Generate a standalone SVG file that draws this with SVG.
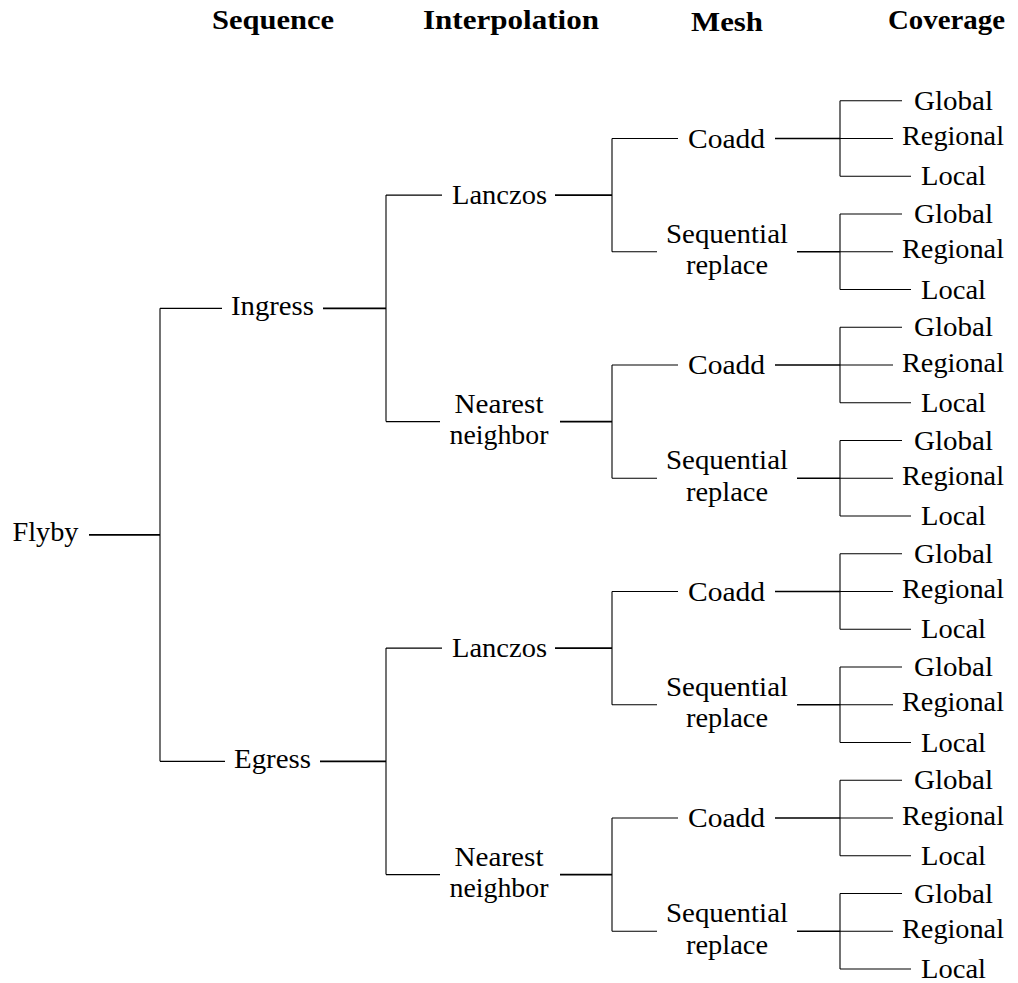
<svg xmlns="http://www.w3.org/2000/svg" width="1018" height="983" viewBox="0 0 1018 983">
<style>
.t{font-family:"Liberation Serif","Times New Roman",serif;font-size:26.5px;text-anchor:middle;fill:#000}
.h{font-weight:bold}
.br{stroke:#000;stroke-width:1.1;fill:none}
.st{stroke:#000;stroke-width:1.6;fill:none}
</style>
<rect width="1018" height="983" fill="#fff"/>
<g id="headers">
<text class="t h" x="273" y="28.5" textLength="122" lengthAdjust="spacingAndGlyphs">Sequence</text>
<text class="t h" x="511" y="28.5" textLength="176" lengthAdjust="spacingAndGlyphs">Interpolation</text>
<text class="t h" x="727" y="31" textLength="72" lengthAdjust="spacingAndGlyphs">Mesh</text>
<text class="t h" x="946.5" y="28.5" textLength="117" lengthAdjust="spacingAndGlyphs">Coverage</text>
</g>
<g id="connectors">
<path class="st" d="M89 534.85H160"/>
<path class="br" d="M160 308.35V761.35M160 308.35H222M160 761.35H225"/>
<path class="st" d="M323 308.35H386M320 761.35H386"/>
<path class="br" d="M386 195.1V421.6M386 195.1H442M386 421.6H440M386 648.1V874.6M386 648.1H442M386 874.6H440"/>
<path class="st" d="M555 195.1H612M560 421.6H612M555 648.1H612M560 874.6H612"/>
<path class="br" d="M612 138.45V251.7M612 138.45H678M612 251.7H657M612 364.95V478.2M612 364.95H678M612 478.2H657M612 591.45V704.7M612 591.45H678M612 704.7H657M612 817.95V931.2M612 817.95H678M612 931.2H657"/>
<path class="st" d="M775 138.45H840M797 251.7H840M775 364.95H840M797 478.2H840M775 591.45H840M797 704.7H840M775 817.95H840M797 931.2H840"/>
<path class="br" d="M840 100.7V176.2M840 100.7H902M840 138.45H893M840 176.2H911M840 213.95V289.45M840 213.95H902M840 251.7H893M840 289.45H911M840 327.2V402.7M840 327.2H902M840 364.95H893M840 402.7H911M840 440.45V515.95M840 440.45H902M840 478.2H893M840 515.95H911M840 553.7V629.2M840 553.7H902M840 591.45H893M840 629.2H911M840 666.95V742.45M840 666.95H902M840 704.7H893M840 742.45H911M840 780.2V855.7M840 780.2H902M840 817.95H893M840 855.7H911M840 893.45V968.95M840 893.45H902M840 931.2H893M840 968.95H911"/>
</g>
<g id="flyby"><text class="t" x="45.5" y="541.45" textLength="66" lengthAdjust="spacingAndGlyphs">Flyby</text></g>
<g id="ingress"><text class="t" x="272.5" y="314.95" textLength="83" lengthAdjust="spacingAndGlyphs">Ingress</text></g>
<g id="egress"><text class="t" x="272.5" y="767.95" textLength="77" lengthAdjust="spacingAndGlyphs">Egress</text></g>
<g id="ingress-lanczos"><text class="t" x="499.5" y="204.3" textLength="95" lengthAdjust="spacingAndGlyphs">Lanczos</text></g>
<g id="ingress-nearest"><text class="t" x="499" y="412.9" textLength="89" lengthAdjust="spacingAndGlyphs">Nearest</text><text class="t" x="499" y="444.1" textLength="99" lengthAdjust="spacingAndGlyphs">neighbor</text></g>
<g id="egress-lanczos"><text class="t" x="499.5" y="657.3" textLength="95" lengthAdjust="spacingAndGlyphs">Lanczos</text></g>
<g id="egress-nearest"><text class="t" x="499" y="865.9" textLength="89" lengthAdjust="spacingAndGlyphs">Nearest</text><text class="t" x="499" y="897.1" textLength="99" lengthAdjust="spacingAndGlyphs">neighbor</text></g>
<g id="mesh-1"><text class="t" x="726.5" y="147.65" textLength="77" lengthAdjust="spacingAndGlyphs">Coadd</text></g>
<g id="mesh-2"><text class="t" x="727" y="242.5" textLength="122" lengthAdjust="spacingAndGlyphs">Sequential</text><text class="t" x="727" y="274.3" textLength="82" lengthAdjust="spacingAndGlyphs">replace</text></g>
<g id="mesh-3"><text class="t" x="726.5" y="374.15" textLength="77" lengthAdjust="spacingAndGlyphs">Coadd</text></g>
<g id="mesh-4"><text class="t" x="727" y="469" textLength="122" lengthAdjust="spacingAndGlyphs">Sequential</text><text class="t" x="727" y="500.8" textLength="82" lengthAdjust="spacingAndGlyphs">replace</text></g>
<g id="mesh-5"><text class="t" x="726.5" y="600.65" textLength="77" lengthAdjust="spacingAndGlyphs">Coadd</text></g>
<g id="mesh-6"><text class="t" x="727" y="695.5" textLength="122" lengthAdjust="spacingAndGlyphs">Sequential</text><text class="t" x="727" y="727.3" textLength="82" lengthAdjust="spacingAndGlyphs">replace</text></g>
<g id="mesh-7"><text class="t" x="726.5" y="827.15" textLength="77" lengthAdjust="spacingAndGlyphs">Coadd</text></g>
<g id="mesh-8"><text class="t" x="727" y="922" textLength="122" lengthAdjust="spacingAndGlyphs">Sequential</text><text class="t" x="727" y="953.8" textLength="82" lengthAdjust="spacingAndGlyphs">replace</text></g>
<g id="cov-1-global"><text class="t" x="953.5" y="109.9" textLength="79" lengthAdjust="spacingAndGlyphs">Global</text></g>
<g id="cov-1-regional"><text class="t" x="953" y="145.05" textLength="102" lengthAdjust="spacingAndGlyphs">Regional</text></g>
<g id="cov-1-local"><text class="t" x="953.5" y="185.4" textLength="65" lengthAdjust="spacingAndGlyphs">Local</text></g>
<g id="cov-2-global"><text class="t" x="953.5" y="223.15" textLength="79" lengthAdjust="spacingAndGlyphs">Global</text></g>
<g id="cov-2-regional"><text class="t" x="953" y="258.3" textLength="102" lengthAdjust="spacingAndGlyphs">Regional</text></g>
<g id="cov-2-local"><text class="t" x="953.5" y="298.65" textLength="65" lengthAdjust="spacingAndGlyphs">Local</text></g>
<g id="cov-3-global"><text class="t" x="953.5" y="336.4" textLength="79" lengthAdjust="spacingAndGlyphs">Global</text></g>
<g id="cov-3-regional"><text class="t" x="953" y="371.55" textLength="102" lengthAdjust="spacingAndGlyphs">Regional</text></g>
<g id="cov-3-local"><text class="t" x="953.5" y="411.9" textLength="65" lengthAdjust="spacingAndGlyphs">Local</text></g>
<g id="cov-4-global"><text class="t" x="953.5" y="449.65" textLength="79" lengthAdjust="spacingAndGlyphs">Global</text></g>
<g id="cov-4-regional"><text class="t" x="953" y="484.8" textLength="102" lengthAdjust="spacingAndGlyphs">Regional</text></g>
<g id="cov-4-local"><text class="t" x="953.5" y="525.15" textLength="65" lengthAdjust="spacingAndGlyphs">Local</text></g>
<g id="cov-5-global"><text class="t" x="953.5" y="562.9" textLength="79" lengthAdjust="spacingAndGlyphs">Global</text></g>
<g id="cov-5-regional"><text class="t" x="953" y="598.05" textLength="102" lengthAdjust="spacingAndGlyphs">Regional</text></g>
<g id="cov-5-local"><text class="t" x="953.5" y="638.4" textLength="65" lengthAdjust="spacingAndGlyphs">Local</text></g>
<g id="cov-6-global"><text class="t" x="953.5" y="676.15" textLength="79" lengthAdjust="spacingAndGlyphs">Global</text></g>
<g id="cov-6-regional"><text class="t" x="953" y="711.3" textLength="102" lengthAdjust="spacingAndGlyphs">Regional</text></g>
<g id="cov-6-local"><text class="t" x="953.5" y="751.65" textLength="65" lengthAdjust="spacingAndGlyphs">Local</text></g>
<g id="cov-7-global"><text class="t" x="953.5" y="789.4" textLength="79" lengthAdjust="spacingAndGlyphs">Global</text></g>
<g id="cov-7-regional"><text class="t" x="953" y="824.55" textLength="102" lengthAdjust="spacingAndGlyphs">Regional</text></g>
<g id="cov-7-local"><text class="t" x="953.5" y="864.9" textLength="65" lengthAdjust="spacingAndGlyphs">Local</text></g>
<g id="cov-8-global"><text class="t" x="953.5" y="902.65" textLength="79" lengthAdjust="spacingAndGlyphs">Global</text></g>
<g id="cov-8-regional"><text class="t" x="953" y="937.8" textLength="102" lengthAdjust="spacingAndGlyphs">Regional</text></g>
<g id="cov-8-local"><text class="t" x="953.5" y="978.15" textLength="65" lengthAdjust="spacingAndGlyphs">Local</text></g>
</svg>
